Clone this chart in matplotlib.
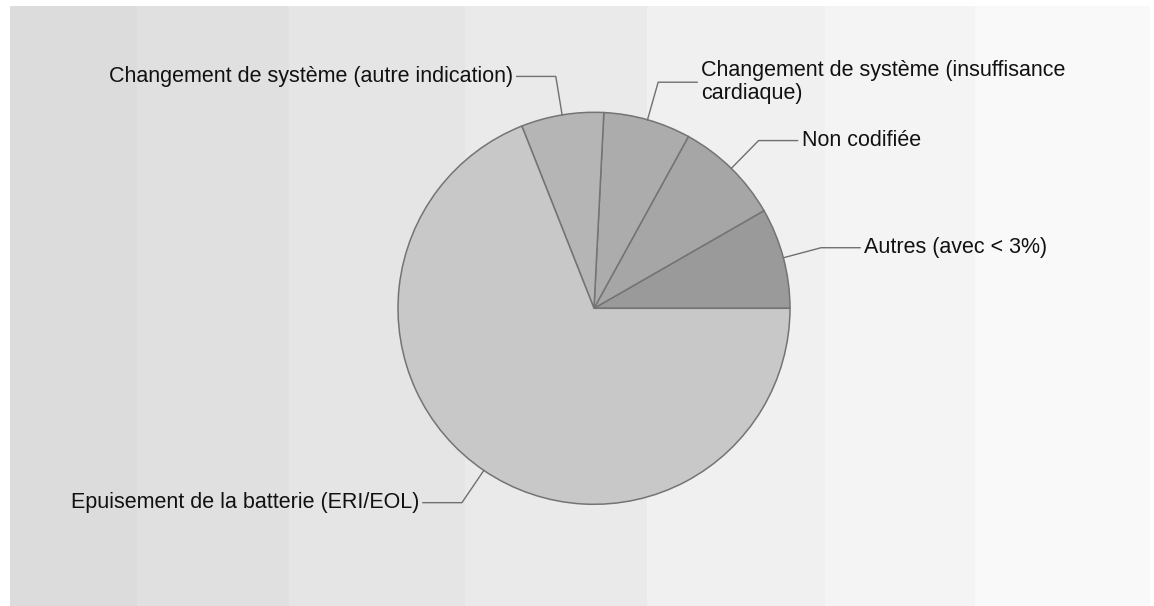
import numpy as np
import matplotlib
matplotlib.use("Agg")
import matplotlib.pyplot as plt

# Parts (%) of each reason, counter-clockwise from 3 o'clock
categories = [
    "Autres (avec < 3%)",
    "Non codifiée",
    "Changement de système (insuffisance\ncardiaque)",
    "Changement de système (autre indication)",
    "Epuisement de la batterie (ERI/EOL)",
]
values = [8.3, 8.7, 7.2, 6.8, 69.0]
colors = ["#9a9a9a", "#a6a6a6", "#acacac", "#b5b5b5", "#c8c8c8"]

W, H = 1154, 606
fig = plt.figure(figsize=(W / 100, H / 100), dpi=100)
ax = fig.add_axes([0, 0, 1, 1])

# banded grey background
edges = [10, 137, 289, 465, 647, 825, 975, 1150]
bands = ["#dcdcdc", "#e0e0e0", "#e5e5e5", "#eaeaea", "#f0f0f0", "#f4f4f4", "#f9f9f9"]
for x0, x1, c in zip(edges[:-1], edges[1:], bands):
    ax.fill_between([x0, x1], 0, H - 6, color=c, lw=0, zorder=0)

cx, cy, r = 594, H - 308.3, 196
wedges, _ = ax.pie(values, colors=colors, startangle=0, counterclock=True,
                   center=(cx, cy), radius=r, frame=True,
                   wedgeprops=dict(edgecolor="#747474", linewidth=1.1))
ax.set_xlim(0, W)
ax.set_ylim(0, H)
ax.set_aspect("equal")
ax.axis("off")

r_elb = 235
for w, lab in zip(wedges, categories):
    a = np.deg2rad((w.theta1 + w.theta2) / 2)
    x0, y0 = cx + r * np.cos(a), cy + r * np.sin(a)
    x1, y1 = cx + r_elb * np.cos(a), cy + r_elb * np.sin(a)
    sgn = 1 if np.cos(a) >= 0 else -1
    x2 = x1 + sgn * 39
    ax.plot([x0, x1, x2], [y0, y1, y1], color="#707070", lw=1.0, zorder=3)
    ax.text(x2 + sgn * 4, y1, lab, ha="left" if sgn > 0 else "right",
            va="center", fontsize=15.5, family="Liberation Sans",
            color="#111111", linespacing=1.15, zorder=4)

fig.savefig("out.png", dpi=100)
